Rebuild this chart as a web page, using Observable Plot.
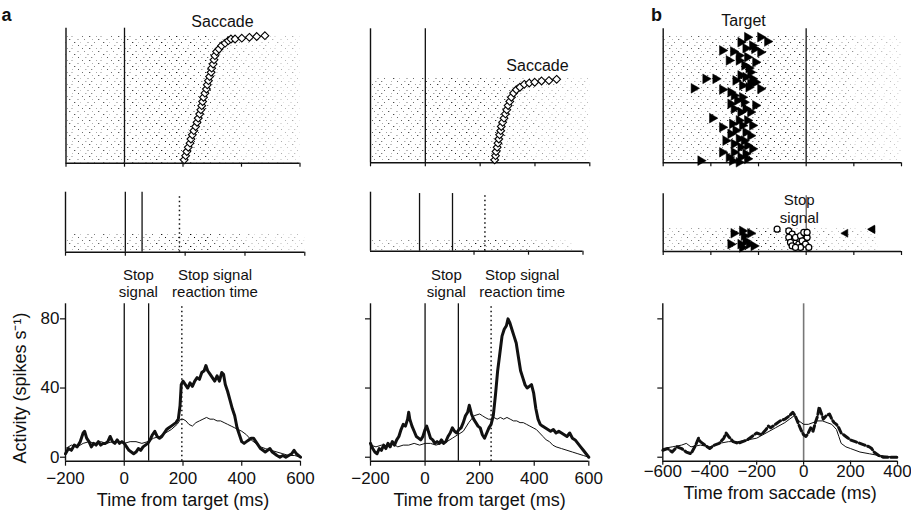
<!DOCTYPE html>
<html><head><meta charset="utf-8">
<script src="https://cdn.jsdelivr.net/npm/d3@7"></script>
<script src="https://cdn.jsdelivr.net/npm/@observablehq/plot@0.6"></script>
<style>
body{margin:0;background:#fff;}
#fig{position:relative;width:911px;height:512px;overflow:hidden;background:#fff;}
#fig svg{position:absolute;left:0;top:0;}
</style></head>
<body><div id="fig">
<svg width="0" height="0" aria-hidden="true"><defs>
<pattern id="stip" width="29" height="12" patternUnits="userSpaceOnUse">
<rect x="2" y="0" width="1.3" height="1" fill="#000"/><rect x="9" y="0" width="1" height="1" fill="#777"/><rect x="13" y="0" width="2" height="1" fill="#aaa"/><rect x="24" y="0" width="1" height="1" fill="#222"/>
<rect x="5" y="3" width="1" height="1" fill="#888"/><rect x="11" y="3" width="1.3" height="1" fill="#111"/><rect x="19" y="3" width="2" height="1" fill="#999"/><rect x="26" y="3" width="1" height="1" fill="#555"/>
<rect x="0" y="6" width="2" height="1" fill="#999"/><rect x="7" y="6" width="1" height="1" fill="#333"/><rect x="16" y="6" width="1.3" height="1" fill="#000"/><rect x="22" y="6" width="1" height="1" fill="#aaa"/>
<rect x="4" y="9" width="1.3" height="1" fill="#444"/><rect x="14" y="9" width="1" height="1" fill="#999"/><rect x="20" y="9" width="1" height="1" fill="#000"/><rect x="27" y="9" width="1.5" height="1" fill="#888"/>
</pattern></defs></svg>
</div>
<script>
// ---------------- DATA ----------------
// Panel a, left column: saccade latencies (ms from target) and trial rows
const a1SaccTime = [204,209,213,218,224,227,232,237,243,248,252,257,261,264,267,270,275,280,283,287,291,296,298,303,306,309,315,323,332,344,355,364,378,401,427,452,480];
const a1SaccTrial = [0.8,1.8,2.8,3.8,4.8,5.8,6.8,7.8,8.8,9.8,10.8,11.8,12.8,13.8,14.8,15.8,16.8,17.8,18.8,19.8,20.8,21.8,22.8,23.8,24.8,25.8,26.8,27.4,28.2,28.8,29.4,29.8,29.8,30.0,30.2,30.4,30.6];
// Panel a, middle column
const a2SaccTime = [253,256,258,262,265,268,271,275,277,282,287,292,297,302,308,314,322,332,345,361,379,399,424,451,479];
const a2SaccTrial = [0.7,1.7,2.7,3.7,4.7,5.7,6.7,7.7,8.7,9.7,10.7,11.7,12.7,13.7,14.7,15.7,16.7,17.5,18.1,18.8,19.1,19.3,19.6,19.7,20.0];
// Panel b top: target onset (ms from saccade) per trial
const bTargetTime = [-247,-192,-163,-275,-226,-254,-352,-306,-217,-192,-282,-247,-324,-282,-213,-259,-241,-234,-275,-254,-226,-422,-380,-296,-213,-268,-241,-234,-471,-352,-317,-192,-303,-268,-289,-261,-213,-317,-303,-254,-275,-234,-394,-282,-247,-310,-268,-226,-352,-296,-254,-317,-234,-282,-338,-261,-303,-247,-275,-226,-352,-303,-254,-324,-275,-247,-443,-310,-282];
const bTargetTrial = [70.3,70.3,67.9,67.5,65.6,64.1,62.9,62.3,63.8,61.9,60,59.1,57.3,57.3,56.3,54.5,53,50.7,48.9,48,47,47,47,46.1,45.1,43.3,42.3,44.2,41.7,41,39.5,41.4,37.7,36.7,34.9,33.9,32.1,33,30.2,30.2,28.4,28.4,25,23.7,23.7,21.8,20.9,20.9,19.9,18.1,17.1,16.2,15.2,13.4,12.4,12.4,10.6,9.7,8.7,7.8,5.9,5.9,5,3.1,3.1,2.2,1.2,1.2,0.3];
// Panel b middle: target (right triangles), stop signal (circles), left triangles
const bMidTargetTime = [-304,-268,-261,-254,-275,-234,-220,-317,-240,-268];
const bMidTargetTrial = [9.5,10.7,8.2,5.5,3.8,9.5,2.9,3.8,3.8,2.1];
const bMidStopTime = [-122,-73,-59,-73,-45,-66,-59,-31,-24,-10,4,-17,-3,-24,-45,11,4];
const bMidStopTrial = [11.6,10.7,9.0,7.3,7.3,4.7,2.9,3.8,8.2,9.9,7.3,5.5,3.8,2.1,2.1,2.1,9.9];
const bMidLeftTime = [165,277,279];
const bMidLeftTrial = [9.5,11.6,11.4];

// Event markers (ms)
const a1MidSolid = [0, 56], a1MidDotted = [181];
const a1LowSolid = [0, 83], a1LowDotted = [196];
const a2MidSolid = [0, 121], a2MidDotted = [240];
const a2LowSolid = [0, 122], a2LowDotted = [242];

// Raster spike density (fraction) per 100-ms bin
const edgesA = [-200,-100,0,100,200,300,400,500,600];
const edgesA2Mid = [-180,-100,0,100,200,300,400,500,560];
const edgesB = [-600,-500,-400,-300,-200,-100,0,100,200,300,400];
const edgesBMid = [-600,-500,-400,-300,-200,-100,0,100,200,300];
const rasterA1Top = [0.10,0.10,0.12,0.14,0.13,0.08,0.06,0.05];
const rasterA2Top = [0.11,0.11,0.12,0.13,0.12,0.08,0.06,0.05];
const rasterBTop  = [0.09,0.10,0.11,0.13,0.14,0.13,0.10,0.07,0.05,0.04];
const rasterA1Mid = [0.10,0.10,0.11,0.14,0.16,0.10,0.06,0.05];
const rasterA2Mid = [0.08,0.08,0.09,0.12,0.16,0.12,0.08,0.04];
const rasterBMid  = [0.08,0.09,0.10,0.13,0.14,0.10,0.08,0.06,0.05];
const rowsA1Top = 30.6, rowsA2Top = 20.3, rowsBTop = 71, rowsA1Mid = 9.5, rowsA2Mid = 5.5, rowsBMid = 11.8;

// Spike density functions (time ms, spikes/s)
const a1ThickT = [-200,-190,-180,-170,-160,-150,-140,-135,-128,-120,-112,-104,-96,-88,-80,-72,-64,-56,-48,-40,-32,-24,-16,-8,0,8,16,24,32,40,48,56,64,72,80,88,96,104,112,120,128,136,144,152,160,168,176,184,190,194,200,208,216,224,232,240,248,256,264,272,278,284,292,300,308,316,324,332,338,344,352,360,368,376,384,392,400,408,416,424,432,440,448,456,464,472,480,488,496,504,512,520,530,540,550,560,570,578,586,600];
const a1ThickV = [2,5,4,7,6,9,14,15,11,9,6,8,7,9,7,8,8,9,12,9,8,10,8,9,8,6,4,3,2,3,5,4,6,7,8,10,13,15,12,11,12,14,16,17,18,19,20,22,30,42,44,42,40,43,41,44,46,45,49,50,53,50,48,46,44,47,44,49,48,42,38,33,28,24,17,13,9,8,9,10,11,11,9,7,5,4,3,4,5,3,2,1,0,1,0,1,2,4,2,0];
const a1ThinT = [-200,-180,-160,-140,-120,-100,-80,-60,-40,-20,0,20,40,60,80,100,120,140,160,180,192,200,210,220,232,244,256,268,280,292,304,316,328,340,352,364,376,388,400,416,432,448,464,480,500,520,540,560,580,600];
const a1ThinV = [5,7,6,8,9,8,9,8,9,9,8,9,9,8,9,11,12,14,16,19,22,22,21,19,18,20,21,22,23,22,22,21,21,20,19,18,17,16,15,13,10,8,6,5,4,3,2,1,1,0];
const a2ThickT = [-200,-192,-184,-176,-168,-160,-152,-144,-136,-128,-120,-112,-104,-96,-88,-80,-72,-64,-60,-56,-48,-40,-32,-24,-16,-8,0,6,12,20,28,36,44,52,60,68,76,84,92,100,108,116,124,132,140,148,156,162,170,178,186,194,202,210,218,226,234,242,250,258,266,274,282,290,298,304,310,318,326,334,342,350,358,366,374,382,390,398,406,414,422,430,440,450,460,470,480,490,500,510,520,530,540,550,560,570,580,590,600];
const a2ThickV = [8,5,3,2,5,4,7,5,8,6,9,7,10,12,16,19,18,22,26,22,18,15,12,11,10,12,16,18,15,11,10,8,9,8,10,8,9,12,14,17,15,14,16,17,20,24,26,30,25,22,20,18,17,13,11,14,17,19,24,36,50,60,70,74,76,80,78,74,70,66,58,50,46,42,40,41,42,37,28,22,19,18,17,16,15,16,14,15,14,13,12,14,11,10,8,6,4,2,0];
const a2ThinT = [-200,-180,-160,-140,-120,-100,-80,-60,-40,-20,0,20,40,60,80,100,120,140,160,180,200,210,220,232,240,252,264,276,288,300,312,324,336,348,360,372,384,396,408,420,432,444,456,468,480,500,520,540,560,580,600];
const a2ThinV = [7,6,7,6,8,6,7,7,8,7,8,8,7,8,9,11,13,15,20,24,25,24,23,22,22,23,22,23,22,23,22,21,21,20,20,19,18,17,16,14,12,10,9,7,6,5,4,3,2,1,0];
const bThickT = [-600,-580,-560,-540,-520,-500,-480,-460,-448,-440,-420,-400,-380,-360,-340,-330,-320,-300,-280,-260,-240,-220,-200,-180,-160,-150,-140,-120,-100,-80,-60,-46,-36,-24,-12,0,10,20,30,40,50,60,66,74,84,96,110,120,130,140,150,160,170,180,190,200,220,240,260,280,290,300,320,340,360,380,400];
const bThickV = [4,5,3,6,5,3,2,7,11,9,7,5,7,8,11,14,12,9,8,9,10,12,14,13,16,18,17,19,21,22,24,26,24,20,16,13,12,14,17,15,20,24,29,26,22,24,25,22,20,19,17,14,13,12,11,10,9,8,7,6,5,3,1,0,0,0,0];
const bThinT = [-600,-560,-520,-500,-480,-440,-400,-360,-320,-280,-240,-200,-160,-120,-80,-60,-40,-20,0,20,40,60,80,100,120,140,150,160,180,200,240,280,320,360,400];
const bThinV = [5,6,7,8,6,7,6,8,9,9,10,11,14,17,20,22,24,21,19,19,20,21,21,20,19,16,12,8,6,5,3,2,1,0.5,0];

const ticksA = [-200,0,200,400,600];
const ticksB = [-600,-400,-200,0,200,400];
const ticksAct = [0,40,80];

// ---------------- HELPERS ----------------
const fig = document.getElementById("fig");
const FONT = "'Liberation Sans', Arial, Helvetica, sans-serif";
const fmt = d => d < 0 ? "\u2212" + Math.abs(d) : String(d);
const zip = (t, v) => t.map((x, i) => ({t: x, v: v[i]}));
const bins = (edges, dens, rows) => dens.map((d, i) => ({x1: edges[i], x2: edges[i+1], y1: 0, y2: rows, d}));

function addPlot(box, xDom, yDom, marks, yAxis = false, xAxis = true) {
  const [L, R, T, B] = box;
  const svg = Plot.plot({
    width: 911, height: 512,
    marginLeft: L, marginRight: 911 - R, marginTop: T, marginBottom: 512 - B,
    x: {domain: xDom, label: null, ...(xAxis ? {} : {axis: null})},
    y: {domain: yDom, label: null, ...(yAxis ? {} : {axis: null})},
    opacity: {type: "identity"},
    style: {background: "transparent", overflow: "visible", fontFamily: FONT, fontSize: "17px", color: "#111"},
    marks
  });
  fig.appendChild(svg);
}
function frame(xDom, yDom) {
  return [
    Plot.ruleY([yDom[0]], {x1: xDom[0], x2: xDom[1], strokeWidth: 1.4}),
    Plot.ruleX([xDom[0]], {y1: yDom[0], y2: yDom[1], strokeWidth: 1.4})
  ];
}
const raster = (edges, dens, rows) => Plot.rect(bins(edges, dens, rows), {
  x1: "x1", x2: "x2", y1: "y1", y2: "y2", fill: "url(#stip)", fillOpacity: d => Math.min(1, d.d * 6.5)
});
const noLabels = (ticks, size = 4) => Plot.axisX(ticks, {anchor: "bottom", tickSize: size, tickFormat: () => "", label: null, strokeWidth: 1.2});
const tri = (time, trial, dir, r) => Plot.dot(time.map((t, i) => ({t, r: trial[i]})), {
  x: "t", y: "r", symbol: "triangle", r, fill: "black", stroke: "black", strokeWidth: 0.5, rotate: dir
});
const twoLine = (txt, x, y, size) => Plot.text([txt], {x, y, fontSize: size, lineHeight: 1.17, lineAnchor: "middle"});

// ---------------- TOP ROW ----------------
{
  const xd = [-200, 600], yd = [0, 32.4];
  addPlot([65.5, 299.5, 27.7, 162.7], xd, yd, [
    raster(edgesA, rasterA1Top, rowsA1Top),
    Plot.ruleX([0], {y1: 0, y2: yd[1], strokeWidth: 1.3}),
    ...frame(xd, yd), noLabels(ticksA),
    Plot.dot(a1SaccTime.map((t, i) => ({t, r: a1SaccTrial[i]})), {x: "t", y: "r", symbol: "diamond2", r: 3.5, fill: "white", stroke: "black", strokeWidth: 1.1}),
    Plot.text(["Saccade"], {x: 335, y: 33.8, fontSize: 16})
  ]);
}
{
  const xd = [-200, 600], yd = [0, 32.1];
  addPlot([370, 589.3, 28.3, 162.3], xd, yd, [
    raster(edgesA, rasterA2Top, rowsA2Top),
    Plot.ruleX([0], {y1: 0, y2: yd[1], strokeWidth: 1.3}),
    ...frame(xd, yd), noLabels(ticksA),
    Plot.dot(a2SaccTime.map((t, i) => ({t, r: a2SaccTrial[i]})), {x: "t", y: "r", symbol: "diamond2", r: 3.5, fill: "white", stroke: "black", strokeWidth: 1.1}),
    Plot.text(["Saccade"], {x: 409, y: 23.3, fontSize: 16})
  ]);
}
{
  const xd = [-600, 400], yd = [0, 75];
  addPlot([662.7, 901, 28.3, 162.3], xd, yd, [
    raster(edgesB, rasterBTop, rowsBTop),
    Plot.ruleX([0], {y1: 0, y2: yd[1], strokeWidth: 1.5, stroke: "#333"}),
    ...frame(xd, yd), noLabels(ticksB),
    tri(bTargetTime, bTargetTrial, 90, 3.6),
    Plot.text(["Target"], {x: -263, y: 79.2, fontSize: 16})
  ]);
}

// ---------------- MIDDLE ROW ----------------
{
  const xd = [-200, 600], yd = [0, 31];
  addPlot([65, 304.3, 191.7, 251.7], xd, yd, [
    raster(edgesA, rasterA1Mid, rowsA1Mid),
    Plot.ruleX(a1MidSolid, {y1: 0, y2: yd[1], strokeWidth: 1.3}),
    Plot.ruleX(a1MidDotted, {y1: 0, y2: 29.5, strokeWidth: 1.5, strokeDasharray: "1.5,3"}),
    ...frame(xd, yd), noLabels(ticksA)
  ]);
}
{
  const xd = [-180, 600], yd = [0, 30.7];
  addPlot([370, 582.5, 191.7, 250.7], xd, yd, [
    raster(edgesA2Mid, rasterA2Mid, rowsA2Mid),
    Plot.ruleX(a2MidSolid, {y1: 0, y2: 30, strokeWidth: 1.3}),
    Plot.ruleX(a2MidDotted, {y1: 0, y2: 29.5, strokeWidth: 1.5, strokeDasharray: "1.5,3"}),
    ...frame(xd, yd), noLabels([200, 400, 600])
  ]);
}
{
  const xd = [-600, 400], yd = [0, 30];
  addPlot([662.7, 901, 193.3, 251], xd, yd, [
    raster(edgesBMid, rasterBMid, rowsBMid),
    Plot.ruleX([0], {y1: 0, y2: 29, strokeWidth: 1, stroke: "#333"}),
    ...frame(xd, yd), noLabels(ticksB),
    tri(bMidTargetTime, bMidTargetTrial, 90, 3.6),
    tri(bMidLeftTime, bMidLeftTrial, -90, 3),
    Plot.dot(bMidStopTime.map((t, i) => ({t, r: bMidStopTrial[i]})), {x: "t", y: "r", r: 3, fill: "white", stroke: "black", strokeWidth: 1.2}),
    twoLine("Stop\nsignal", -29, 22.3, 15)
  ]);
}

// ---------------- BOTTOM ROW ----------------
const yAct = [-2.3, 88.7];
function lower(box, xd, ticks, curves, extra, withLabels, xTitle, titleDy, tickPad, tickLen) {
  addPlot(box, xd, yAct, [
    ...extra,
    ...curves,
    ...frame(xd, yAct),
    Plot.axisX(ticks, {anchor: "bottom", tickSize: tickLen, tickPadding: tickPad, tickFormat: fmt, label: null, fontSize: 17, strokeWidth: 1.2}),
    Plot.axisY(ticksAct, {anchor: "left", tickSize: 5, tickPadding: 1, tickFormat: withLabels ? fmt : () => "", label: null, fontSize: 17, strokeWidth: 1.2}),
    Plot.text([xTitle], {frameAnchor: "bottom", dy: titleDy, lineAnchor: "middle", fontSize: 18})
  ], true);
}
lower([65, 300, 303.3, 460.7], [-200, 600], ticksA, [
  Plot.line(zip(a1ThinT, a1ThinV), {x: "t", y: "v", strokeWidth: 1}),
  Plot.line(zip(a1ThickT, a1ThickV), {x: "t", y: "v", strokeWidth: 3, strokeLinejoin: "round"})
], [
  Plot.ruleX(a1LowSolid, {y1: yAct[0], y2: yAct[1], strokeWidth: 1.3}),
  Plot.ruleX(a1LowDotted, {y1: yAct[0], y2: yAct[1], strokeWidth: 1.5, strokeDasharray: "1.5,3"}),
  twoLine("Stop\nsignal", 48, 100.8, 15),
  twoLine("Stop signal\nreaction time", 309, 100.8, 15),
  Plot.text(["Activity (spikes s\u207B\u00B9)"], {x: -200, y: 40, dx: -45, rotate: -90, fontSize: 18})
], true, "Time from target (ms)", 39, 6, 5);

lower([370, 588.3, 303.3, 460.7], [-200, 600], ticksA, [
  Plot.line(zip(a2ThinT, a2ThinV), {x: "t", y: "v", strokeWidth: 1}),
  Plot.line(zip(a2ThickT, a2ThickV), {x: "t", y: "v", strokeWidth: 3, strokeLinejoin: "round"})
], [
  Plot.ruleX(a2LowSolid, {y1: yAct[0], y2: yAct[1], strokeWidth: 1.3}),
  Plot.ruleX(a2LowDotted, {y1: yAct[0], y2: yAct[1], strokeWidth: 1.5, strokeDasharray: "1.5,3"}),
  twoLine("Stop\nsignal", 78, 100.8, 15),
  twoLine("Stop signal\nreaction time", 356, 100.8, 15)
], false, "Time from target (ms)", 39, 6, 5);

lower([662.3, 897, 303.3, 460.7], [-600, 400], ticksB, [
  Plot.line(zip(bThinT, bThinV), {x: "t", y: "v", strokeWidth: 1}),
  Plot.line(zip(bThickT, bThickV), {x: "t", y: "v", strokeWidth: 3, strokeDasharray: "6,3"})
], [
  Plot.ruleX([0], {y1: yAct[0], y2: yAct[1], strokeWidth: 1.6, stroke: "#777"})
], false, "Time from saccade (ms)", 32, 0, 4);

// Panel letters
addPlot([0, 911, 0, 512], [0, 911], [0, 512], [
  Plot.text(["a"], {x: 6, y: 512 - 15, fontSize: 18, fontWeight: "bold"}),
  Plot.text(["b"], {x: 656, y: 512 - 15, fontSize: 18, fontWeight: "bold"})
], false, false);
</script>
</body></html>
